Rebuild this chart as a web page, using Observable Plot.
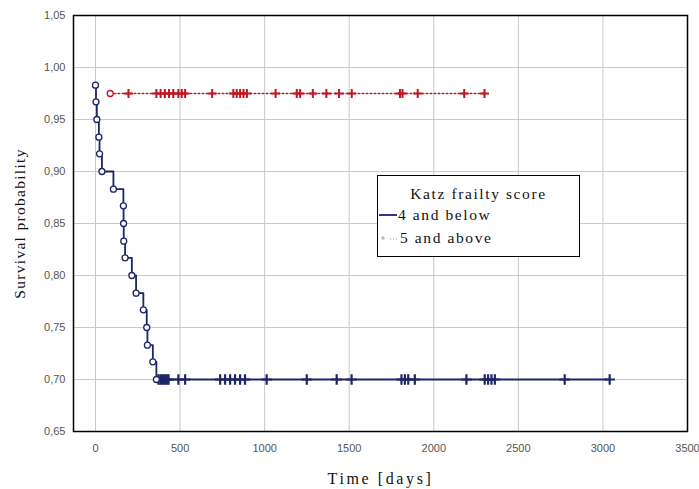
<!DOCTYPE html>
<html>
<head>
<meta charset="utf-8">
<script src="https://cdn.jsdelivr.net/npm/d3@7"></script>
<script src="https://cdn.jsdelivr.net/npm/@observablehq/plot@0.6"></script>
<style>
  html, body { margin: 0; padding: 0; background: #fff; }
  #wrap { position: relative; width: 699px; height: 489px; }
  [aria-label="y-axis label"] text { font-family: "Liberation Serif", "DejaVu Serif", serif; font-size: 15.5px; letter-spacing: 1.3px; fill: #111; }
  [aria-label="x-axis label"] text { font-family: "Liberation Serif", "DejaVu Serif", serif; font-size: 16px; letter-spacing: 2.6px; fill: #111; }
  #legend { position: absolute; left: 377px; top: 175px; width: 203px; height: 82px; border: 1.5px solid #000; background: #fff; box-sizing: border-box;
    font-family: "Liberation Serif", "DejaVu Serif", serif; font-size: 15.5px; letter-spacing: 1.6px; color: #111; }
  #legend .title { position: absolute; left: 0; right: 0; top: 10px; text-align: center; line-height: 16px; }
  #legend .row { position: absolute; left: 0; height: 18px; display: flex; align-items: center; }
</style>
</head>
<body>
<div id="wrap"></div>
<script>
// Group "4 and below": event (death) times and survival after each event
const blueEventTime = [0, 3, 8, 20, 24, 38, 106, 165, 166, 167, 175, 215, 240, 283, 303, 307, 339, 360];
const blueEventSurv = [0.983, 0.967, 0.950, 0.933, 0.917, 0.900, 0.883, 0.867, 0.850, 0.833, 0.817, 0.800, 0.783, 0.767, 0.750, 0.733, 0.717, 0.700];
// censored times
const blueCensorTime = [372, 384, 394, 404, 414, 424, 432, 490, 530, 737, 766, 796, 825, 855, 884, 1012, 1249, 1426, 1514, 1809, 1829, 1849, 1888, 2193, 2301, 2321, 2341, 2361, 2774, 3040];

// Group "5 and above"
const redEventTime = [87];
const redEventSurv = [0.975];
const redCensorTime = [195, 360, 385, 410, 435, 460, 490, 510, 530, 690, 815, 835, 855, 875, 895, 1065, 1190, 1210, 1285, 1365, 1440, 1515, 1800, 1815, 1905, 2180, 2300];

const xTicks = [0, 500, 1000, 1500, 2000, 2500, 3000, 3500];
const yTicks = [0.65, 0.70, 0.75, 0.80, 0.85, 0.90, 0.95, 1.00, 1.05];

const legendTitle = "Katz frailty score";
const groupNames = ["4 and below", "5 and above"];
const blue = "#1c2566";
const red = "#c4121f";

// survival level at time t (step function from events)
function survAt(times, surv, t) {
  let s = 1;
  for (let i = 0; i < times.length; i++) if (times[i] <= t) s = surv[i];
  return s;
}
function curve(times, surv, censor) {
  const pts = times.map((t, i) => ({t, s: surv[i]}));
  const last = Math.max(...censor);
  pts.push({t: last, s: survAt(times, surv, last)});
  return pts;
}
const blueLine = curve(blueEventTime, blueEventSurv, blueCensorTime);
const redLine = curve(redEventTime, redEventSurv, redCensorTime);
const blueEvents = blueEventTime.map((t, i) => ({t, s: blueEventSurv[i]}));
const redEvents = redEventTime.map((t, i) => ({t, s: redEventSurv[i]}));
const blueCens = blueCensorTime.map(t => ({t, s: survAt(blueEventTime, blueEventSurv, t)}));
const redCens = redCensorTime.map(t => ({t, s: survAt(redEventTime, redEventSurv, t)}));

const fmtY = d => d3.format(".2f")(d).replace(".", ",");
const fmtX = d => String(d);

const chart = Plot.plot({
  width: 699,
  height: 489,
  marginLeft: 73,
  marginRight: 12,
  marginTop: 15,
  marginBottom: 58,
  style: {fontFamily: "'Liberation Sans', Arial, sans-serif", fontSize: "11px", background: "#fff", color: "#555"},
  x: {domain: [-130, 3500], ticks: xTicks},
  y: {domain: [0.65, 1.05], ticks: yTicks},
  marks: [
    Plot.gridX(xTicks, {stroke: "#c8c8c8", strokeOpacity: 1}),
    Plot.gridY(yTicks, {stroke: "#c8c8c8", strokeOpacity: 1}),
    Plot.axisX(xTicks, {tickSize: 0, tickPadding: 13, tickFormat: fmtX, label: "Time [days]", labelAnchor: "center", labelArrow: "none", labelOffset: 52, fill: "#555"}),
    Plot.axisY(yTicks, {tickSize: 0, tickPadding: 8, tickFormat: fmtY, label: "Survival probability", labelAnchor: "center", labelArrow: "none", labelOffset: 60, fill: "#555"}),
    Plot.line(redLine, {x: "t", y: "s", curve: "step-after", stroke: red, strokeWidth: 1.6, strokeDasharray: "1.5,2.5"}),
    Plot.dot(redCens, {x: "t", y: "s", symbol: "plus", r: 3, stroke: red, strokeWidth: 2}),
    Plot.dot(redEvents, {x: "t", y: "s", symbol: "circle", r: 3, stroke: red, fill: "#fff", strokeWidth: 1.3}),
    Plot.line(blueLine, {x: "t", y: "s", curve: "step-after", stroke: blue, strokeWidth: 1.8}),
    Plot.dot(blueCens, {x: "t", y: "s", symbol: "plus", r: 3.5, stroke: blue, strokeWidth: 2.2}),
    Plot.dot(blueEvents, {x: "t", y: "s", symbol: "circle", r: 3, stroke: blue, fill: "#fff", strokeWidth: 1.3}),
    Plot.frame({stroke: "#000", strokeWidth: 1.5})
  ]
});
const wrap = document.getElementById("wrap");
wrap.appendChild(chart);

// legend
const lg = document.createElement("div");
lg.id = "legend";
lg.innerHTML = `
  <div class="title">${legendTitle}</div>
  <div class="row" style="top:30px"><svg width="20" height="10"><line x1="1" x2="19" y1="5" y2="5" stroke="${blue}" stroke-width="1.8"/></svg><span>${groupNames[0]}</span></div>
  <div class="row" style="top:53px"><svg width="22" height="10"><line x1="5" x2="5" y1="3" y2="7" stroke="#aaa" stroke-width="1"/><line x1="3" x2="7" y1="5" y2="5" stroke="#aaa" stroke-width="1"/><line x1="12" x2="20" y1="6" y2="6" stroke="#888" stroke-width="1" stroke-dasharray="1,2"/></svg><span>${groupNames[1]}</span></div>`;
wrap.appendChild(lg);
</script>
</body>
</html>
